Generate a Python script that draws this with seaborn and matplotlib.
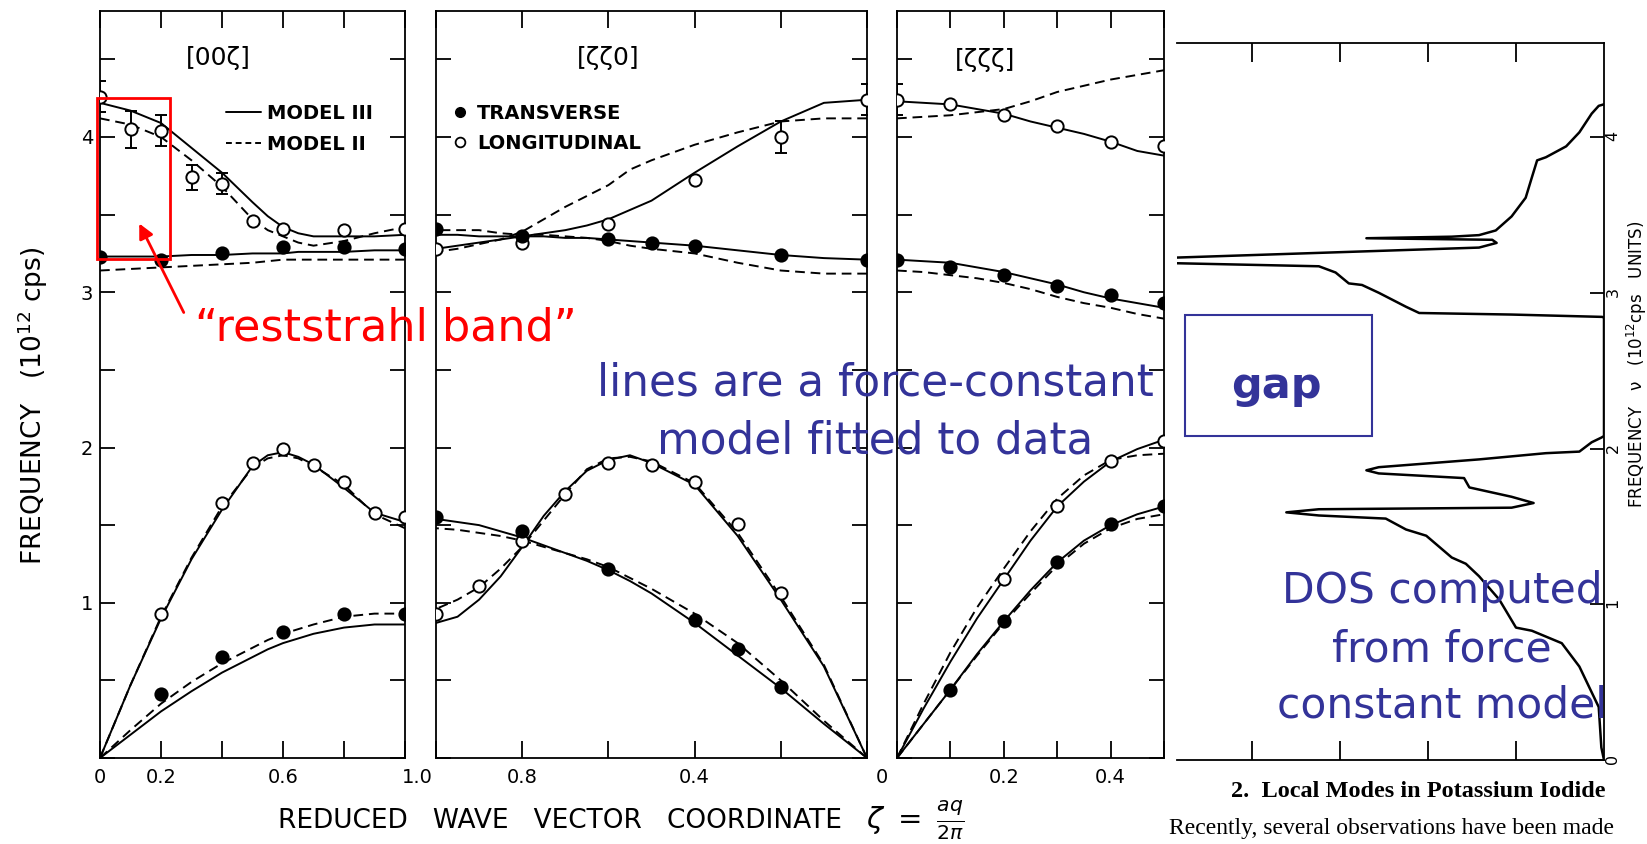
import numpy as np
import pandas as pd
import matplotlib
matplotlib.use("Agg")
import matplotlib.pyplot as plt
import seaborn as sns
from matplotlib.lines import Line2D
from matplotlib.patches import Rectangle, FancyArrowPatch
from matplotlib.transforms import ScaledTranslation

# ---------------- data ----------------
# [00ζ] branch, measured points (frequency in 10^12 cps)
z00_lo = [0, 0.1, 0.2, 0.3, 0.4, 0.5, 0.6, 0.8, 1.0]
f00_lo = [4.26, 4.05, 4.04, 3.74, 3.70, 3.46, 3.41, 3.40, 3.41]
e00_lo = [0.10, 0.12, 0.10, 0.08, 0.07, 0, 0, 0, 0]
z00_to = [0, 0.2, 0.4, 0.6, 0.8, 1.0]
f00_to = [3.23, 3.21, 3.25, 3.29, 3.29, 3.28]
z00_la = [0.2, 0.4, 0.5, 0.6, 0.7, 0.8, 0.9, 1.0]
f00_la = [0.93, 1.64, 1.90, 1.99, 1.89, 1.78, 1.58, 1.55]
z00_ta = [0.2, 0.4, 0.6, 0.8, 1.0]
f00_ta = [0.41, 0.65, 0.81, 0.93, 0.93]

# [00ζ] model curves
z00_m = [0, 0.1, 0.2, 0.3, 0.4, 0.5, 0.55, 0.6, 0.65, 0.7, 0.8, 0.9, 1.0]
m3_00_lo = [4.22, 4.17, 4.09, 3.93, 3.77, 3.58, 3.49, 3.42, 3.38, 3.36, 3.36, 3.36, 3.37]
m2_00_lo = [4.12, 4.08, 4.00, 3.85, 3.68, 3.47, 3.40, 3.36, 3.32, 3.30, 3.33, 3.38, 3.42]
m3_00_to = [3.23, 3.23, 3.23, 3.24, 3.24, 3.25, 3.25, 3.25, 3.26, 3.26, 3.26, 3.27, 3.27]
m2_00_to = [3.14, 3.15, 3.16, 3.17, 3.18, 3.19, 3.20, 3.21, 3.21, 3.21, 3.21, 3.21, 3.21]
m3_00_la = [0, 0.47, 0.90, 1.28, 1.60, 1.88, 1.95, 1.97, 1.94, 1.89, 1.74, 1.58, 1.52]
m2_00_la = [0, 0.47, 0.91, 1.29, 1.62, 1.87, 1.93, 1.95, 1.93, 1.88, 1.76, 1.57, 1.48]
m3_00_ta = [0, 0.15, 0.30, 0.43, 0.55, 0.65, 0.70, 0.74, 0.77, 0.80, 0.84, 0.86, 0.86]
m2_00_ta = [0, 0.18, 0.35, 0.49, 0.61, 0.71, 0.76, 0.80, 0.83, 0.86, 0.91, 0.93, 0.93]

# [ζζ0] branch, measured points
zz0_lo = [0, 0.2, 0.4, 0.6, 0.8, 1.0]
fz0_lo = [4.24, 4.00, 3.72, 3.44, 3.32, 3.28]
ez0_lo = [0.10, 0.10, 0, 0, 0, 0]
zz0_to = [0, 0.2, 0.4, 0.5, 0.6, 0.8, 1.0]
fz0_to = [3.21, 3.24, 3.30, 3.32, 3.34, 3.36, 3.41]
zz0_la = [0.2, 0.3, 0.4, 0.5, 0.6, 0.7, 0.8, 0.9, 1.0]
fz0_la = [1.06, 1.51, 1.78, 1.89, 1.90, 1.70, 1.40, 1.11, 0.93]
zz0_ta = [0.2, 0.3, 0.4, 0.6, 0.8, 1.0]
fz0_ta = [0.46, 0.70, 0.89, 1.22, 1.46, 1.55]

# [ζζ0] model curves
zz0_m = [0, 0.1, 0.2, 0.3, 0.4, 0.5, 0.55, 0.6, 0.65, 0.7, 0.75, 0.8, 0.85, 0.9, 0.95, 1.0]
m3_z0_lo = [4.24, 4.22, 4.10, 3.94, 3.77, 3.59, 3.53, 3.47, 3.43, 3.40, 3.38, 3.36, 3.34, 3.32, 3.30, 3.28]
m2_z0_lo = [4.12, 4.12, 4.10, 4.03, 3.95, 3.85, 3.79, 3.69, 3.62, 3.55, 3.47, 3.39, 3.34, 3.31, 3.28, 3.26]
m3_z0_to = [3.21, 3.22, 3.24, 3.27, 3.30, 3.32, 3.33, 3.34, 3.35, 3.35, 3.36, 3.36, 3.36, 3.36, 3.37, 3.37]
m2_z0_to = [3.12, 3.12, 3.14, 3.19, 3.25, 3.28, 3.30, 3.33, 3.35, 3.36, 3.37, 3.37, 3.38, 3.40, 3.40, 3.40]
m3_z0_la = [0, 0.59, 1.02, 1.43, 1.76, 1.90, 1.95, 1.92, 1.85, 1.72, 1.56, 1.36, 1.17, 1.02, 0.91, 0.87]
m2_z0_la = [0, 0.60, 1.04, 1.45, 1.77, 1.91, 1.94, 1.93, 1.86, 1.70, 1.53, 1.36, 1.22, 1.10, 1.02, 0.96]
m3_z0_ta = [0, 0.22, 0.45, 0.66, 0.87, 1.06, 1.14, 1.21, 1.27, 1.32, 1.37, 1.42, 1.46, 1.50, 1.52, 1.54]
m2_z0_ta = [0, 0.24, 0.50, 0.74, 0.93, 1.09, 1.16, 1.23, 1.28, 1.32, 1.36, 1.40, 1.43, 1.45, 1.47, 1.48]

# [ζζζ] branch, measured points
zzz_lo = [0, 0.1, 0.2, 0.3, 0.4, 0.5]
fzz_lo = [4.24, 4.21, 4.14, 4.07, 3.97, 3.94]
ezz_lo = [0.10, 0, 0, 0, 0, 0]
zzz_to = [0, 0.1, 0.2, 0.3, 0.4, 0.5]
fzz_to = [3.21, 3.16, 3.11, 3.04, 2.98, 2.93]
zzz_la = [0.2, 0.3, 0.4, 0.5]
fzz_la = [1.15, 1.62, 1.91, 2.04]
zzz_ta = [0.1, 0.2, 0.3, 0.4, 0.5]
fzz_ta = [0.44, 0.88, 1.26, 1.51, 1.62]

# [ζζζ] model curves
zzz_m = [0, 0.05, 0.1, 0.15, 0.2, 0.25, 0.3, 0.35, 0.4, 0.45, 0.5]
m3_zz_lo = [4.23, 4.22, 4.21, 4.18, 4.15, 4.10, 4.06, 4.02, 3.97, 3.91, 3.88]
m2_zz_lo = [4.12, 4.13, 4.14, 4.16, 4.18, 4.23, 4.29, 4.33, 4.37, 4.40, 4.43]
m3_zz_to = [3.21, 3.20, 3.19, 3.16, 3.13, 3.09, 3.05, 3.00, 2.96, 2.93, 2.90]
m2_zz_to = [3.14, 3.13, 3.11, 3.09, 3.06, 3.02, 2.97, 2.93, 2.90, 2.86, 2.83]
m3_zz_la = [0, 0.32, 0.62, 0.90, 1.15, 1.40, 1.62, 1.78, 1.91, 1.99, 2.05]
m2_zz_la = [0, 0.35, 0.68, 0.97, 1.22, 1.46, 1.67, 1.82, 1.92, 1.95, 1.96]
m3_zz_ta = [0, 0.22, 0.44, 0.67, 0.88, 1.08, 1.26, 1.40, 1.50, 1.57, 1.62]
m2_zz_ta = [0, 0.22, 0.44, 0.66, 0.87, 1.06, 1.24, 1.38, 1.48, 1.54, 1.57]

# density of states traced along frequency (arbitrary units, zero on the right)
dos_freq = [0.00, 0.08, 0.34, 0.60, 0.75, 0.83, 0.85, 1.03, 1.18, 1.26, 1.30, 1.44, 1.48,
            1.55, 1.57, 1.59, 1.61, 1.62, 1.65, 1.69, 1.75, 1.81, 1.84, 1.86, 1.88, 1.93,
            1.97, 1.98, 2.04, 2.07, 2.08, 2.84, 2.845, 2.86, 2.87, 2.91, 3.00, 3.05, 3.06,
            3.13, 3.17, 3.19, 3.21, 3.225, 3.29, 3.32, 3.34, 3.35, 3.36, 3.37, 3.40, 3.49,
            3.61, 3.74, 3.85, 3.87, 3.94, 4.03, 4.15, 4.20, 4.21]
dos_val = [0.00, 0.03, 0.06, 0.28, 0.48, 0.82, 1.00, 1.19, 1.42, 1.57, 1.73, 2.02, 2.25,
           2.48, 3.24, 3.61, 3.24, 1.05, 0.80, 1.05, 1.53, 1.59, 2.56, 2.70, 2.56, 1.42,
           0.66, 0.28, 0.14, 0.03, 0.00, 0.00, 0.02, 1.05, 2.10, 2.25, 2.56, 2.75, 2.90,
           3.05, 3.24, 4.90, 5.40, 4.90, 1.42, 1.22, 1.27, 2.70, 1.73, 1.42, 1.23, 1.05,
           0.89, 0.82, 0.76, 0.66, 0.43, 0.28, 0.14, 0.06, 0.00]

# ---------------- layout helpers ----------------
W, H, DPI = 1647, 844, 100
BLUE = "#333399"
RED = "#ff0000"
LW = 1.4
DASH = (5, 3)

sns.set_theme(style="ticks", rc={
    "axes.edgecolor": "black", "xtick.color": "black", "ytick.color": "black",
    "text.color": "black", "axes.labelcolor": "black", "axes.linewidth": 1.3,
})
plt.rcParams["font.family"] = ["DejaVu Sans"]
plt.rcParams["mathtext.fontset"] = "dejavusans"

fig = plt.figure(figsize=(W / DPI, H / DPI), dpi=DPI)
fig.patch.set_facecolor("white")


def box(x0, x1, ytop, ybot):
    return [x0 / W, 1 - ybot / H, (x1 - x0) / W, (ybot - ytop) / H]


def fx(x):
    return x / W


def fy(y):
    return 1 - y / H


F_TOP = (758 - 11) / 155.25

ax1 = fig.add_axes(box(100, 405, 11, 758))
ax2 = fig.add_axes(box(436, 867, 11, 758))
ax3 = fig.add_axes(box(897, 1164, 11, 758))
ax4 = fig.add_axes(box(1177, 1604, 43, 760))


def model_frame(z, curves):
    rows = []
    for (model, branch), vals in curves.items():
        for zi, fi in zip(z, vals):
            rows.append({"zeta": zi, "freq": fi, "model": model, "branch": branch})
    return pd.DataFrame(rows)


def draw_panel(ax, z, curves, pts, errs):
    df = model_frame(z, curves)
    sns.lineplot(data=df, x="zeta", y="freq", style="model", units="branch",
                 estimator=None, sort=False, color="black", lw=LW,
                 dashes={"III": "", "II": DASH}, legend=False, ax=ax)
    for zs, fs, filled in pts:
        sns.scatterplot(x=zs, y=fs, marker="o", s=78, ax=ax, zorder=4,
                        facecolor="black" if filled else "white",
                        edgecolor="black", linewidth=1.4, legend=False)
    zs, fs, es = errs
    keep = [i for i, e in enumerate(es) if e > 0]
    ax.errorbar([zs[i] for i in keep], [fs[i] for i in keep], yerr=[es[i] for i in keep],
                fmt="none", ecolor="black", elinewidth=1.4, capsize=4, capthick=1.4, zorder=3)
    ax.set_xlabel("")
    ax.set_ylabel("")


draw_panel(ax1, z00_m,
           {("III", "lo"): m3_00_lo, ("II", "lo"): m2_00_lo,
            ("III", "to"): m3_00_to, ("II", "to"): m2_00_to,
            ("III", "la"): m3_00_la, ("II", "la"): m2_00_la,
            ("III", "ta"): m3_00_ta, ("II", "ta"): m2_00_ta},
           [(z00_lo, f00_lo, False), (z00_to, f00_to, True),
            (z00_la, f00_la, False), (z00_ta, f00_ta, True)],
           (z00_lo, f00_lo, e00_lo))

draw_panel(ax2, zz0_m,
           {("III", "lo"): m3_z0_lo, ("II", "lo"): m2_z0_lo,
            ("III", "to"): m3_z0_to, ("II", "to"): m2_z0_to,
            ("III", "la"): m3_z0_la, ("II", "la"): m2_z0_la,
            ("III", "ta"): m3_z0_ta, ("II", "ta"): m2_z0_ta},
           [(zz0_lo, fz0_lo, False), (zz0_to, fz0_to, True),
            (zz0_la, fz0_la, False), (zz0_ta, fz0_ta, True)],
           (zz0_lo, fz0_lo, ez0_lo))

draw_panel(ax3, zzz_m,
           {("III", "lo"): m3_zz_lo, ("II", "lo"): m2_zz_lo,
            ("III", "to"): m3_zz_to, ("II", "to"): m2_zz_to,
            ("III", "la"): m3_zz_la, ("II", "la"): m2_zz_la,
            ("III", "ta"): m3_zz_ta, ("II", "ta"): m2_zz_ta},
           [(zzz_lo, fzz_lo, False), (zzz_to, fzz_to, True),
            (zzz_la, fzz_la, False), (zzz_ta, fzz_ta, True)],
           (zzz_lo, fzz_lo, ezz_lo))


def frame(ax, xlim, xt, xtl, ylabels):
    ax.set_xlim(*xlim)
    ax.set_ylim(0, F_TOP)
    ax.set_xticks(xt)
    ax.set_xticklabels(xtl)
    yt = np.arange(0, 4.51, 0.5)
    ax.set_yticks(yt)
    if ylabels:
        ax.set_yticklabels([str(int(v)) if v in (1, 2, 3, 4) else "" for v in yt])
    else:
        ax.set_yticklabels([])
    ax.tick_params(axis="y", direction="in", length=11, width=1.3, left=True, right=True,
                   labelsize=14, pad=5)
    ax.tick_params(axis="x", direction="in", length=12, width=1.3, top=True, bottom=True,
                   labelsize=14, pad=7)
    for sp in ax.spines.values():
        sp.set_linewidth(1.3)
        sp.set_color("black")


frame(ax1, (0, 1), [0, 0.2, 0.4, 0.6, 0.8, 1.0], ["0", "0.2", "", "0.6", "", "1.0"], True)
frame(ax2, (1, 0), [1.0, 0.8, 0.6, 0.4, 0.2, 0], ["", "0.8", "", "0.4", "", "0"], False)
frame(ax3, (0, 0.5), [0, 0.1, 0.2, 0.3, 0.4, 0.5], ["", "", "0.2", "", "0.4", ""], False)

# labels shared by neighbouring panels sit in the gap between them
for ax, dx in ((ax1, 12), (ax2, 15)):
    lab = ax.get_xticklabels()[-1]
    lab.set_transform(lab.get_transform() + ScaledTranslation(dx / DPI, 0, fig.dpi_scale_trans))

# panel titles
fig.text(fx(218), fy(58), "[00ζ]", ha="center", va="center", fontsize=18)
fig.text(fx(608), fy(58), "[ζζ0]", ha="center", va="center", fontsize=18)
fig.text(fx(985), fy(60), "[ζζζ]", ha="center", va="center", fontsize=18)

# legends
ax1.legend([Line2D([], [], color="black", lw=LW),
            Line2D([], [], color="black", lw=LW, dashes=(3, 2))],
           ["MODEL III", "MODEL II"], loc="upper left",
           bbox_to_anchor=(fx(226), fy(104)), bbox_transform=fig.transFigure,
           frameon=False, prop={"size": 14, "weight": "bold"}, handlelength=1.8,
           handletextpad=0.3, labelspacing=0.6, borderpad=0, borderaxespad=0)
ax2.legend([Line2D([], [], ls="none", marker="o", mfc="black", mec="black", ms=7),
            Line2D([], [], ls="none", marker="o", mfc="white", mec="black", ms=7, mew=1.3)],
           ["TRANSVERSE", "LONGITUDINAL"], loc="upper left",
           bbox_to_anchor=(fx(452), fy(104)), bbox_transform=fig.transFigure,
           frameon=False, prop={"size": 14, "weight": "bold"}, handlelength=0.8,
           handletextpad=0.5, labelspacing=0.55, borderpad=0, borderaxespad=0)

# axis labels
fig.text(fx(33), fy(406), "FREQUENCY   (10$^{12}$ cps)", rotation=90,
         ha="center", va="center", fontsize=19)
fig.text(fx(278), fy(821), "REDUCED   WAVE   VECTOR   COORDINATE",
         ha="left", va="center", fontsize=19)
fig.text(fx(866), fy(820), r"$\zeta\ =\ \frac{aq}{2\pi}$", ha="left", va="center", fontsize=21)

# ---------------- density of states ----------------
sns.lineplot(x=dos_val, y=dos_freq, orient="y", sort=False, estimator=None,
             color="black", lw=1.8, ax=ax4)
ax4.set_xlim((1604 - 1177) / 88, 0)
ax4.set_ylim(0, (760 - 43) / 155.75)
ax4.spines["left"].set_visible(False)
for sp in ("top", "bottom", "right"):
    ax4.spines[sp].set_linewidth(1.3)
    ax4.spines[sp].set_color("black")
ax4.set_xticks([1, 2, 3, 4])
ax4.set_xticklabels([])
ax4.set_yticks([0, 1, 2, 3, 4])
ax4.yaxis.tick_right()
ax4.tick_params(axis="x", direction="in", length=14, width=1.3, top=True, bottom=True)
ax4.tick_params(axis="y", direction="in", length=10, width=1.3, left=False, right=True,
                labelright=True, labelleft=False, labelsize=11.5, labelrotation=90, pad=1)
ax4.set_xlabel("")
ax4.set_ylabel("")
fig.text(fx(1637), fy(364), "FREQUENCY   ν   (10$^{12}$cps   UNITS)", rotation=90,
         ha="center", va="center", fontsize=12)

fig.text(fx(1418), fy(797), "2.  Local Modes in Potassium Iodide", ha="center", va="baseline",
         family="Liberation Serif", weight="bold", fontsize=17.5)
fig.text(fx(1169), fy(834), "Recently, several observations have been made", ha="left",
         va="baseline", family="Liberation Serif", fontsize=17)

# ---------------- annotations ----------------
fig.add_artist(Rectangle((fx(97), fy(259)), (170 - 97) / W, (259 - 98) / H,
                         transform=fig.transFigure, fill=False, ec=RED, lw=2))
fig.add_artist(FancyArrowPatch((fx(185), fy(315)), (fx(138), fy(221)),
                               transform=fig.transFigure, arrowstyle="-|>",
                               mutation_scale=22, color=RED, lw=2))
fig.text(fx(195), fy(340), "“reststrahl band”", color=RED, fontsize=32, va="baseline")

fig.text(fx(875), fy(395), "lines are a force-constant", ha="center", va="baseline",
         fontsize=31.5, color=BLUE)
fig.text(fx(875), fy(453), "model fitted to data", ha="center", va="baseline",
         fontsize=31.5, color=BLUE)

fig.add_artist(Rectangle((fx(1185), fy(436)), (1372 - 1185) / W, (436 - 315) / H,
                         transform=fig.transFigure, fill=False, ec=BLUE, lw=1.5))
fig.text(fx(1276), fy(398), "gap", ha="center", va="baseline", fontsize=31,
         weight="bold", color=BLUE)

for txt, yb in (("DOS computed", 603), ("from force", 661), ("constant model", 718)):
    fig.text(fx(1442), fy(yb), txt, ha="center", va="baseline", fontsize=30.5, color=BLUE)

fig.savefig("out.png", dpi=DPI, facecolor="white")
